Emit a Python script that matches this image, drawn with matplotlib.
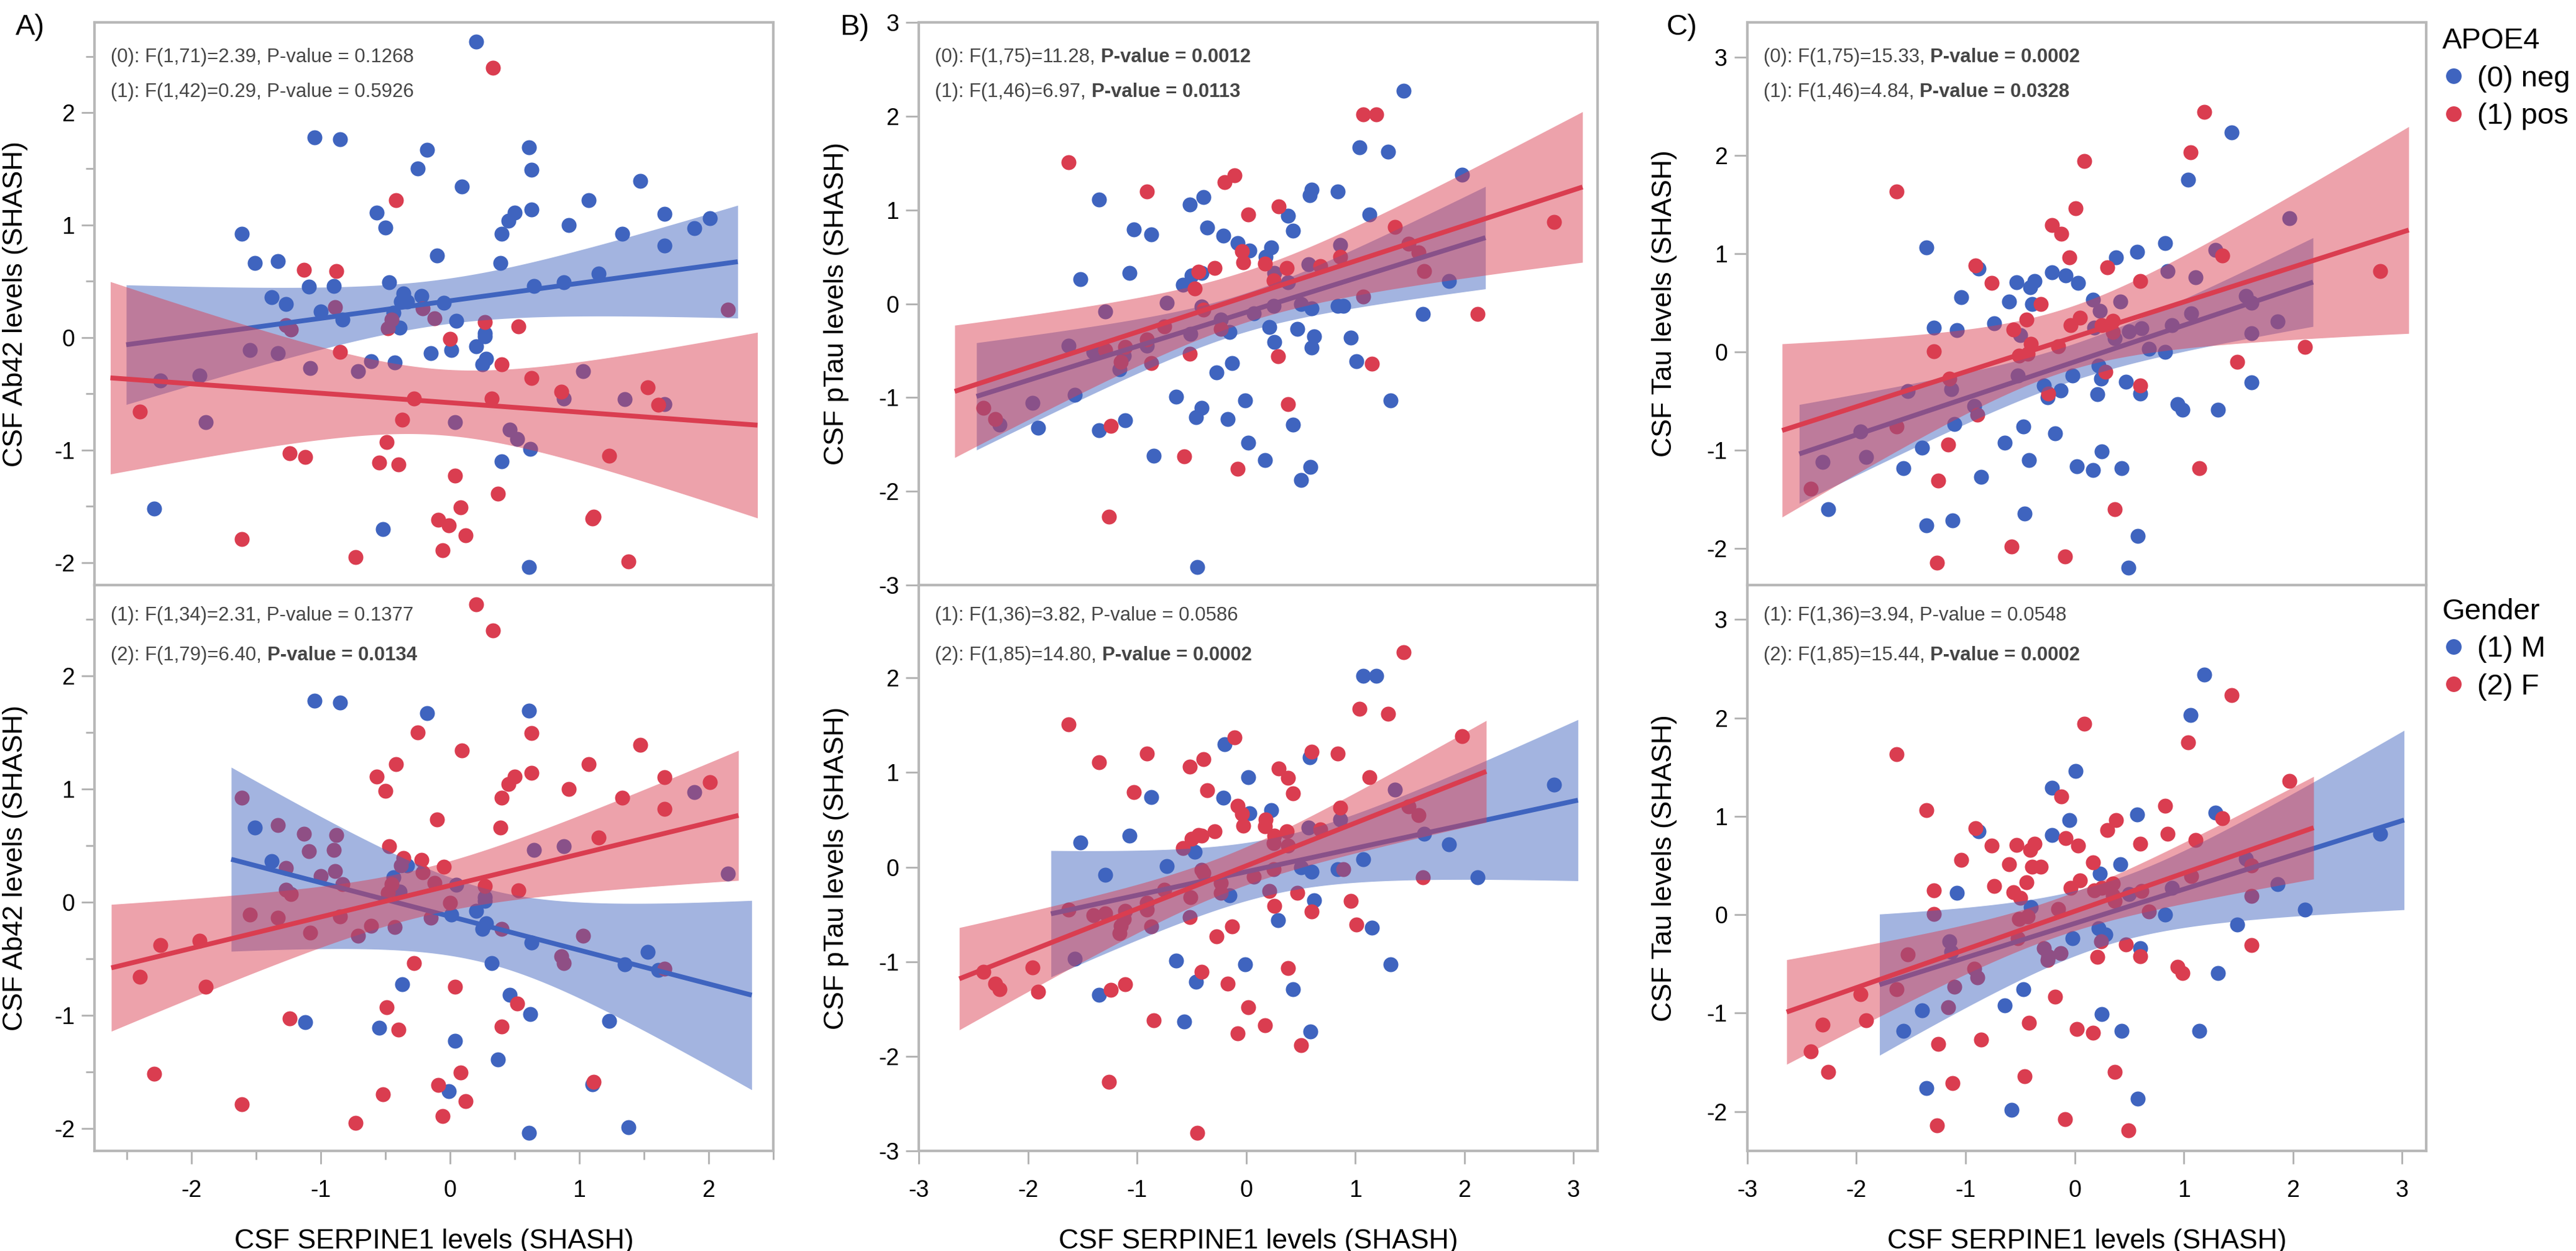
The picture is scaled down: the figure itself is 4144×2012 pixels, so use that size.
import numpy as np
import matplotlib
matplotlib.use("Agg")
import matplotlib.pyplot as plt
from matplotlib.lines import Line2D
from matplotlib.ticker import MultipleLocator

plt.rcParams['font.family'] = ['Liberation Sans', 'DejaVu Sans']
plt.rcParams['axes.unicode_minus'] = False

BLUE = '#3F64BF'
RED = '#DA3D50'
GRAY_TXT = '#454545'

# --- Column A: CSF Ab42 (x, y, APOE4 0/1, Gender 1/2) ---
a_x = [0.20, 0.33, -1.05, -0.85, -0.18, 0.61, -0.25, 0.63, 0.09, 1.47,
       -0.42, 1.07, -0.57, 0.50, 0.63, 0.45, 1.66, 2.01, -0.50, 0.92,
       -1.61, 0.40, 1.33, 1.89, 1.66, -0.10, -1.51, -1.33, 0.39, -1.13,
       -0.88, 1.15, -1.09, -0.90, -0.47, 0.65, 0.88, -1.38, -1.27, -0.36,
       -0.22, -0.38, -0.33, -0.05, -1.00, -0.89, -0.21, -0.44, -0.83, -0.45,
       -0.12, 0.05, -0.39, -0.48, -1.27, -1.23, 0.27, 0.53, 0.27, 0.27,
       0.00, 2.15, -0.85, -1.55, -1.33, -0.15, 0.01, 0.20, 0.28, -1.08,
       -0.71, -0.61, -0.43, 0.25, 0.40, 1.03, -2.24, -1.94, 0.63, 1.53,
       0.86, 0.88, 1.35, 1.66, 1.61, -0.28, 0.32, -2.40, -1.89, -0.37,
       0.04, 0.46, 0.52, 0.62, -0.49, -1.24, -1.12, -0.55, -0.40, 0.40,
       1.23, 0.04, 0.37, -2.29, 0.08, 1.10, 1.11, -0.09, -0.01, -0.52,
       0.12, -1.61, -0.06, -0.73, 1.38, 0.61]
a_y = [2.63, 2.40, 1.78, 1.76, 1.67, 1.69, 1.50, 1.49, 1.34, 1.39,
       1.22, 1.22, 1.11, 1.11, 1.14, 1.04, 1.10, 1.06, 0.98, 1.00,
       0.92, 0.92, 0.92, 0.97, 0.82, 0.73, 0.66, 0.68, 0.66, 0.60,
       0.59, 0.57, 0.45, 0.46, 0.49, 0.46, 0.49, 0.36, 0.30, 0.39,
       0.37, 0.32, 0.32, 0.31, 0.23, 0.27, 0.26, 0.22, 0.16, 0.16,
       0.17, 0.15, 0.09, 0.08, 0.11, 0.07, 0.14, 0.10, 0.04, 0.01,
       -0.01, 0.25, -0.13, -0.11, -0.14, -0.14, -0.11, -0.08, -0.19, -0.27,
       -0.30, -0.21, -0.22, -0.24, -0.24, -0.30, -0.38, -0.34, -0.36, -0.44,
       -0.48, -0.54, -0.55, -0.59, -0.60, -0.54, -0.54, -0.66, -0.75, -0.73,
       -0.75, -0.82, -0.90, -0.99, -0.93, -1.03, -1.06, -1.11, -1.13, -1.10,
       -1.05, -1.23, -1.39, -1.52, -1.51, -1.61, -1.59, -1.62, -1.67, -1.70,
       -1.76, -1.79, -1.89, -1.95, -1.99, -2.04]
a_apoe = [0, 1, 0, 0, 0, 0, 0, 0, 0, 0,
          1, 0, 0, 0, 0, 0, 0, 0, 0, 0,
          0, 0, 0, 0, 0, 0, 0, 0, 0, 1,
          1, 0, 0, 0, 0, 0, 0, 0, 0, 0,
          0, 0, 0, 0, 0, 1, 1, 0, 0, 1,
          1, 0, 0, 1, 1, 1, 1, 1, 0, 0,
          1, 1, 1, 0, 0, 0, 0, 0, 0, 0,
          0, 0, 0, 0, 1, 0, 0, 0, 1, 1,
          1, 0, 0, 0, 1, 1, 1, 1, 0, 1,
          0, 0, 0, 0, 1, 1, 1, 1, 1, 0,
          1, 1, 1, 0, 1, 1, 1, 1, 1, 0,
          1, 1, 1, 1, 1, 0]
a_sex = [2, 2, 1, 1, 1, 1, 2, 2, 2, 2,
         2, 2, 2, 2, 2, 2, 2, 2, 2, 2,
         2, 2, 2, 1, 2, 2, 1, 2, 2, 2,
         2, 2, 2, 2, 2, 1, 1, 1, 2, 2,
         2, 2, 1, 2, 2, 2, 2, 1, 2, 2,
         2, 1, 1, 2, 2, 2, 2, 2, 1, 1,
         2, 1, 2, 2, 2, 2, 1, 1, 1, 2,
         2, 2, 2, 1, 2, 2, 2, 2, 1, 1,
         2, 2, 1, 2, 1, 2, 1, 2, 2, 1,
         2, 1, 2, 1, 2, 2, 1, 1, 2, 2,
         1, 1, 1, 2, 2, 1, 2, 2, 1, 2,
         2, 2, 2, 2, 1, 1]

# --- Column B: CSF pTau ---
b_x = [1.44, 1.07, 1.19, 1.04, 1.30, -1.63, 1.98, -0.11, -0.20, -0.91,
       -1.35, -0.39, -0.52, 0.60, 0.58, 0.84, 0.30, 0.02, 0.38, 1.13,
       -1.03, -0.36, -0.87, 0.43, -0.21, 1.36, -0.08, -0.04, 0.03, -0.03,
       0.18, 0.23, 0.17, 0.86, 0.86, 1.49, 1.58, -0.29, -0.44, -0.41,
       -0.50, -1.07, -1.52, 0.26, 0.37, 0.57, 0.68, 0.25, 0.38, 1.63,
       1.86, -0.58, -0.47, -0.73, -0.41, -0.39, 0.25, 0.50, 0.60, 0.07,
       0.84, 0.89, 1.07, 1.62, 2.12, -1.29, -0.75, -0.23, -0.23, -0.15,
       -0.51, 0.21, 0.47, 0.62, 0.96, -0.91, -1.63, -1.11, -0.91, 0.26,
       0.60, -1.40, -1.29, -1.12, -0.52, -1.15, -1.16, -0.87, -0.13, 0.29,
       1.01, 1.15, -0.27, -1.57, -0.64, -0.41, -0.01, 1.32, -2.41, -1.96,
       -2.30, -2.26, -1.91, -1.35, -1.24, -1.11, -0.46, -0.17, 0.38, 0.43,
       0.02, -0.85, -0.57, -0.08, 0.17, 0.59, 0.50, -1.26, -0.45, 2.82]
b_y = [2.27, 2.02, 2.02, 1.67, 1.62, 1.51, 1.38, 1.37, 1.30, 1.20,
       1.11, 1.14, 1.06, 1.22, 1.16, 1.20, 1.04, 0.95, 0.94, 0.95,
       0.79, 0.81, 0.74, 0.78, 0.73, 0.82, 0.65, 0.56, 0.57, 0.44,
       0.50, 0.60, 0.43, 0.63, 0.50, 0.64, 0.55, 0.38, 0.34, 0.33,
       0.30, 0.33, 0.26, 0.33, 0.38, 0.42, 0.40, 0.25, 0.23, 0.35,
       0.24, 0.20, 0.16, 0.01, -0.03, -0.06, -0.02, 0.00, -0.05, -0.10,
       -0.02, -0.02, 0.08, -0.11, -0.11, -0.08, -0.24, -0.17, -0.27, -0.30,
       -0.32, -0.25, -0.27, -0.35, -0.36, -0.38, -0.45, -0.46, -0.45, -0.41,
       -0.47, -0.51, -0.49, -0.55, -0.53, -0.62, -0.70, -0.63, -0.63, -0.56,
       -0.61, -0.64, -0.73, -0.97, -0.99, -1.11, -1.03, -1.03, -1.11, -1.06,
       -1.23, -1.29, -1.32, -1.35, -1.30, -1.24, -1.21, -1.23, -1.07, -1.29,
       -1.48, -1.62, -1.63, -1.76, -1.67, -1.74, -1.88, -2.27, -2.81, 0.87]
b_apoe = [0, 1, 1, 0, 0, 1, 0, 1, 1, 1,
          0, 0, 0, 0, 0, 0, 1, 1, 0, 0,
          0, 0, 0, 0, 0, 1, 0, 1, 0, 1,
          0, 0, 1, 0, 1, 1, 1, 1, 1, 0,
          0, 0, 0, 0, 1, 0, 1, 1, 0, 1,
          0, 0, 1, 0, 0, 1, 0, 0, 0, 0,
          0, 0, 1, 0, 1, 0, 1, 0, 1, 0,
          0, 0, 0, 0, 0, 1, 0, 1, 0, 0,
          0, 0, 1, 0, 1, 1, 0, 1, 0, 1,
          0, 1, 0, 0, 0, 0, 0, 0, 1, 0,
          1, 0, 0, 0, 1, 0, 0, 0, 1, 0,
          0, 0, 1, 1, 0, 0, 0, 1, 0, 1]
b_sex = [2, 1, 1, 2, 2, 2, 2, 2, 1, 2,
         2, 2, 2, 2, 1, 2, 2, 1, 2, 2,
         2, 2, 1, 2, 1, 1, 2, 2, 1, 2,
         2, 1, 2, 2, 1, 2, 2, 2, 2, 2,
         2, 1, 1, 2, 2, 1, 2, 2, 2, 1,
         1, 2, 1, 1, 2, 2, 2, 1, 1, 2,
         1, 2, 1, 2, 1, 1, 2, 2, 2, 1,
         2, 2, 2, 1, 2, 2, 2, 2, 2, 2,
         2, 2, 2, 2, 2, 2, 2, 2, 2, 1,
         2, 1, 2, 1, 1, 2, 1, 1, 2, 2,
         2, 2, 2, 1, 2, 2, 1, 2, 2, 1,
         2, 2, 1, 2, 2, 1, 2, 2, 2, 1]

# --- Column C: CSF Tau ---
c_x = [1.19, 1.44, 1.06, 0.09, 1.04, -1.63, 0.01, -0.21, -0.12, 1.97,
       -1.36, -0.05, 0.38, 0.57, 0.83, 1.29, 1.35, -0.91, -0.88, 0.30,
       -0.21, -0.08, 0.03, -0.53, -0.41, -0.37, -0.76, 0.85, 1.11, 0.60,
       -1.04, -0.60, -0.39, -0.31, 0.17, 0.42, 0.23, 0.05, 0.35, -0.44,
       -0.74, -1.29, -1.08, 1.07, 1.57, 1.62, 1.62, 1.86, -0.04, 0.25,
       0.18, 0.35, 0.50, 0.61, 0.89, -0.56, -0.50, 0.37, -0.40, -0.51,
       -0.43, -0.15, -1.29, 0.68, 0.83, 2.11, 1.49, 0.22, 0.28, 0.24,
       -0.02, -0.52, -1.15, -1.13, -1.53, -0.28, -0.13, -0.24, -0.25, 0.21,
       0.47, 0.60, 0.60, 1.62, 0.94, 0.99, 1.31, -0.92, -0.89, -1.63,
       -1.96, -1.10, -0.47, -0.18, -0.64, -1.16, -1.40, 0.25, -2.31, -1.91,
       -0.42, -1.57, 0.02, 0.17, 0.43, 1.14, -0.86, -1.25, -2.42, -2.26,
       0.37, -0.46, -1.12, -1.36, 0.58, -0.58, -0.09, -1.26, 0.49, 2.80]
c_y = [2.44, 2.23, 2.03, 1.94, 1.75, 1.63, 1.46, 1.29, 1.20, 1.36,
       1.06, 0.96, 0.96, 1.02, 1.11, 1.04, 0.98, 0.88, 0.85, 0.86,
       0.81, 0.78, 0.70, 0.71, 0.66, 0.72, 0.70, 0.82, 0.76, 0.72,
       0.56, 0.51, 0.49, 0.49, 0.53, 0.51, 0.42, 0.35, 0.32, 0.33,
       0.29, 0.25, 0.22, 0.39, 0.57, 0.50, 0.19, 0.31, 0.27, 0.27,
       0.25, 0.20, 0.21, 0.24, 0.27, 0.23, 0.17, 0.14, 0.08, -0.04,
       -0.02, 0.06, 0.01, 0.03, 0.00, 0.05, -0.10, -0.14, -0.20, -0.27,
       -0.24, -0.24, -0.27, -0.38, -0.40, -0.34, -0.39, -0.42, -0.46, -0.43,
       -0.30, -0.34, -0.42, -0.31, -0.53, -0.59, -0.59, -0.55, -0.64, -0.76,
       -0.81, -0.73, -0.76, -0.83, -0.92, -0.94, -0.97, -1.01, -1.12, -1.07,
       -1.10, -1.18, -1.16, -1.20, -1.18, -1.18, -1.27, -1.31, -1.39, -1.60,
       -1.60, -1.64, -1.71, -1.76, -1.87, -1.98, -2.08, -2.14, -2.19, 0.82]
c_apoe = [1, 0, 1, 1, 0, 1, 1, 1, 1, 0,
          0, 1, 0, 0, 0, 0, 1, 1, 0, 1,
          0, 0, 0, 0, 0, 0, 1, 0, 0, 1,
          0, 0, 0, 1, 0, 0, 0, 1, 1, 1,
          0, 0, 0, 0, 0, 0, 0, 0, 1, 1,
          0, 1, 0, 0, 0, 1, 0, 0, 1, 1,
          1, 1, 1, 0, 0, 1, 1, 0, 1, 0,
          0, 0, 1, 0, 0, 0, 0, 1, 0, 0,
          0, 1, 0, 0, 0, 0, 0, 0, 1, 1,
          0, 0, 0, 0, 0, 1, 0, 0, 0, 0,
          0, 0, 0, 0, 0, 1, 0, 1, 1, 0,
          1, 0, 0, 0, 0, 1, 1, 1, 0, 1]
c_sex = [1, 2, 1, 2, 2, 2, 1, 1, 2, 2,
         2, 1, 2, 1, 2, 1, 2, 2, 1, 2,
         1, 2, 2, 2, 2, 2, 2, 2, 2, 2,
         2, 2, 2, 2, 2, 1, 1, 2, 2, 2,
         2, 2, 1, 2, 1, 2, 2, 1, 2, 2,
         2, 2, 1, 2, 1, 2, 2, 2, 1, 2,
         2, 2, 2, 2, 1, 1, 1, 1, 1, 2,
         1, 2, 1, 1, 2, 2, 2, 2, 2, 2,
         2, 1, 2, 2, 2, 2, 1, 2, 2, 2,
         2, 2, 1, 2, 1, 2, 1, 1, 2, 2,
         2, 1, 2, 2, 1, 1, 2, 2, 2, 2,
         2, 2, 2, 1, 1, 1, 2, 2, 2, 1]

# stats text: (plain part, bold part)
a_top_stats = [("(0): F(1,71)=2.39, P-value = 0.1268", ""),
               ("(1): F(1,42)=0.29, P-value = 0.5926", "")]
a_bot_stats = [("(1): F(1,34)=2.31, P-value = 0.1377", ""),
               ("(2): F(1,79)=6.40, ", "P-value = 0.0134")]
b_top_stats = [("(0): F(1,75)=11.28, ", "P-value = 0.0012"),
               ("(1): F(1,46)=6.97, ", "P-value = 0.0113")]
b_bot_stats = [("(1): F(1,36)=3.82, P-value = 0.0586", ""),
               ("(2): F(1,85)=14.80, ", "P-value = 0.0002")]
c_top_stats = [("(0): F(1,75)=15.33, ", "P-value = 0.0002"),
               ("(1): F(1,46)=4.84, ", "P-value = 0.0328")]
c_bot_stats = [("(1): F(1,36)=3.94, P-value = 0.0548", ""),
               ("(2): F(1,85)=15.44, ", "P-value = 0.0002")]


def t_crit(df):
    # 97.5% quantile of Student t (Cornish-Fisher expansion)
    z = 1.959964
    return z + (z**3 + z) / (4 * df) + (5 * z**5 + 16 * z**3 + 3 * z) / (96 * df**2)


def fit_band(x, y):
    x = np.asarray(x, float)
    y = np.asarray(y, float)
    n = len(x)
    b1, b0 = np.polyfit(x, y, 1)
    pad = 0.05 * (x.max() - x.min())
    xs = np.linspace(x.min() - pad, x.max() + pad, 200)
    yh = b0 + b1 * xs
    s = np.sqrt(np.sum((y - b0 - b1 * x) ** 2) / (n - 2))
    sxx = np.sum((x - x.mean()) ** 2)
    hw = t_crit(n - 2) * s * np.sqrt(1 / n + (xs - x.mean()) ** 2 / sxx)
    return xs, yh, yh - hw, yh + hw


def draw_panel(ax, x, y, grp, codes, stats, xlim, ylim, first_y):
    x = np.asarray(x)
    y = np.asarray(y)
    grp = np.asarray(grp)
    for code, col in zip(codes, [BLUE, RED]):
        m = grp == code
        ax.scatter(x[m], y[m], s=75, color=col, lw=0, zorder=1)
    z = 2
    for code, col in zip(codes, [BLUE, RED]):
        m = grp == code
        xs, yh, lo, hi = fit_band(x[m], y[m])
        ax.fill_between(xs, lo, hi, color=col, alpha=0.48, lw=0, zorder=z)
        ax.plot(xs, yh, color=col, lw=2.8, zorder=z + 1, solid_capstyle='butt')
        z += 2
    ax.set_xlim(*xlim)
    ax.set_ylim(*ylim)
    for sp in ax.spines.values():
        sp.set_color('#B8B8B8')
        sp.set_linewidth(1.5)
    ax.tick_params(axis='both', which='both', color='#B0B0B0', width=1.0,
                   labelsize=13.5)
    ax.tick_params(which='major', length=7.5)
    ax.tick_params(which='minor', length=5)
    ax.tick_params(axis='x', pad=9)
    ax.tick_params(axis='y', pad=4)
    for (plain, bold), yy in zip(stats, [1 - first_y, 1 - 0.124]):
        t = ax.text(0.024, yy, plain, transform=ax.transAxes, fontsize=11.2,
                    color=GRAY_TXT, va='center', ha='left', zorder=10)
        if bold:
            ax.annotate(bold, xy=(1, 0), xycoords=t, va='bottom', ha='left',
                        fontsize=11.2, fontweight='bold', color=GRAY_TXT, zorder=10)


fig = plt.figure(figsize=(20.72, 10.06), dpi=200)
lefts = [0.0367, 0.3567, 0.6783]
w = 0.2635
top_pos = (0.5323, 0.4497)
bot_pos = (0.080, 0.4523)

cols = [
    (a_x, a_y, a_apoe, a_sex, a_top_stats, a_bot_stats, (-2.75, 2.5),
     (-2.2, 2.8), (-2.2, 2.8), "CSF Ab42 levels (SHASH)", -0.098),
    (b_x, b_y, b_apoe, b_sex, b_top_stats, b_bot_stats, (-3, 3.22),
     (-3, 3), (-3, 2.98), "CSF pTau levels (SHASH)", -0.103),
    (c_x, c_y, c_apoe, c_sex, c_top_stats, c_bot_stats, (-3, 3.22),
     (-2.37, 3.35), (-2.4, 3.35), "CSF Tau levels (SHASH)", -0.103),
]

for i, (x, y, apoe, sex, st_top, st_bot, xl, yl_top, yl_bot, ylab, ylx) in enumerate(cols):
    at = fig.add_axes([lefts[i], top_pos[0], w, top_pos[1]])
    ab = fig.add_axes([lefts[i], bot_pos[0], w, bot_pos[1]])
    draw_panel(at, x, y, apoe, [0, 1], st_top, xl, yl_top, 0.062)
    draw_panel(ab, x, y, sex, [1, 2], st_bot, xl, yl_bot, 0.054)
    at.tick_params(axis='x', which='both', bottom=False, labelbottom=False)
    for a in (at, ab):
        a.yaxis.set_major_locator(MultipleLocator(1))
        a.set_ylabel(ylab, fontsize=16)
        a.yaxis.set_label_coords(ylx, 0.5)
    ab.xaxis.set_major_locator(MultipleLocator(1))
    ab.set_xlabel("CSF SERPINE1 levels (SHASH)", fontsize=16)
    ab.xaxis.set_label_coords(0.5, -0.137)
    if i == 0:
        for a in (at, ab):
            a.yaxis.set_minor_locator(MultipleLocator(0.5))
        ab.xaxis.set_minor_locator(MultipleLocator(0.5))

for lab, xx in zip(["A)", "B)", "C)"], [0.0118, 0.3318, 0.6528]):
    fig.text(xx, 0.978, lab, fontsize=17, ha='center', va='center')

h_apoe = [Line2D([], [], ls='', marker='o', ms=8, color=BLUE, label='(0) neg'),
          Line2D([], [], ls='', marker='o', ms=8, color=RED, label='(1) pos')]
h_sex = [Line2D([], [], ls='', marker='o', ms=8, color=BLUE, label='(1) M'),
         Line2D([], [], ls='', marker='o', ms=8, color=RED, label='(2) F')]
for handles, title, ytop in [(h_apoe, 'APOE4', 0.978), (h_sex, 'Gender', 0.522)]:
    fig.legend(handles=handles, title=title, loc='upper left',
               bbox_to_anchor=(0.948, ytop), frameon=False, fontsize=17,
               title_fontsize=17, alignment='left', handlelength=0.8,
               handletextpad=0.4, borderpad=0, borderaxespad=0,
               labelspacing=0.35)

fig.savefig("out.png", dpi=200)
